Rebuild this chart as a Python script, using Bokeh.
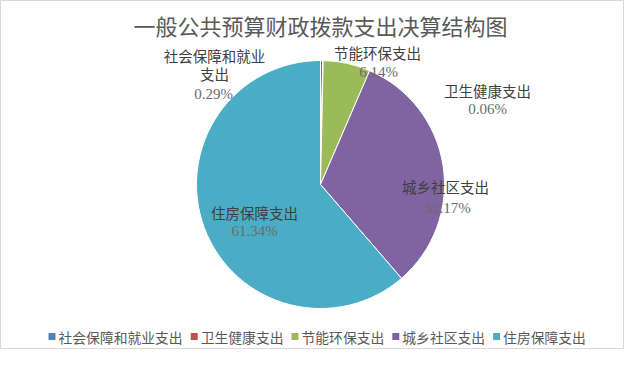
import math
from bokeh.plotting import figure
from bokeh.models import Range1d, ColumnDataSource
from bokeh.core.properties import value
from bokeh.embed import file_html
from bokeh.resources import INLINE

# ---- data ----
title_text = "一般公共预算财政拨款支出决算结构图"
categories = ["社会保障和就业支出", "卫生健康支出", "节能环保支出", "城乡社区支出", "住房保障支出"]
values = [0.29, 0.06, 6.14, 32.17, 61.34]
colors = ["#4F81BD", "#C0504D", "#9BBB59", "#8064A2", "#4BACC6"]

# ---- layout (reference pixel coordinates) ----
H = 365
W_FIG, H_FIG = 624, 349
cx, cy, r = 320, 184, 124
label_lines = [["社会保障和就业", "支出"], ["卫生健康支出"], ["节能环保支出"], ["城乡社区支出"], ["住房保障支出"]]
label_x = [214, 487, 377, 445, 254]
label_y = [[55, 73], [90], [52], [186], [212]]
pct_x = [213, 487, 378, 447, 254]
pct_y = [93, 108, 71, 207, 230]

CJK = "Noto Sans CJK SC"

p = figure(width=W_FIG, height=H_FIG, output_backend="svg", toolbar_location=None,
           x_range=Range1d(0, W_FIG), y_range=Range1d(H - H_FIG, H),
           x_axis_location=None, y_axis_location=None, min_border=0)
p.grid.visible = False
p.outline_line_color = "#d9d9d9"
p.outline_line_width = 1
p.background_fill_color = "white"
p.border_fill_color = "white"

# wedges: start at 12 o'clock, clockwise
total = sum(values)
starts, ends = [], []
cum = 0.0
for v in values:
    starts.append(math.pi / 2 - 2 * math.pi * cum / total)
    cum += v
    ends.append(math.pi / 2 - 2 * math.pi * cum / total)
src = ColumnDataSource(dict(start=starts, end=ends, color=colors,
                            x=[cx] * len(values), y=[H - cy] * len(values)))
p.wedge(x="x", y="y", radius=r, start_angle="start", end_angle="end", direction="clock",
        fill_color="color", line_color="white", line_width=1, source=src)

# title
p.text(x=[320], y=[H - 24], text=[title_text], text_font=value(CJK), text_font_size="22px",
       text_color="#595959", text_align="center", text_baseline="middle")

# data labels
nx, ny, nt = [], [], []
for i, lines in enumerate(label_lines):
    for j, ln in enumerate(lines):
        nx.append(label_x[i]); ny.append(H - label_y[i][j]); nt.append(ln)
p.text(x=nx, y=ny, text=nt, text_font=value(CJK), text_font_size="14.5px",
       text_color="#404040", text_align="center", text_baseline="middle")
pct = ["%.2f%%" % v for v in values]
p.text(x=pct_x, y=[H - y for y in pct_y], text=pct, text_font=value("Liberation Serif"),
       text_font_size="15px", text_color="#6b6b6b", text_align="center", text_baseline="middle")

# legend (manual, horizontal)
char_w = 13.8
cur = 48
mx, tx = [], []
for c in categories:
    mx.append(cur + 3.5)
    tx.append(cur + 10)
    cur = cur + 10 + len(c) * char_w + 8
ly = H - 336
p.scatter(x=mx, y=[ly] * len(mx), marker="square", size=7, fill_color=colors, line_color=None)
p.text(x=tx, y=[ly] * len(tx), text=categories, text_font=value(CJK), text_font_size="13.8px",
       text_color="#595959", text_align="left", text_baseline="middle")

open("out.html", "w").write(file_html(p, INLINE))
